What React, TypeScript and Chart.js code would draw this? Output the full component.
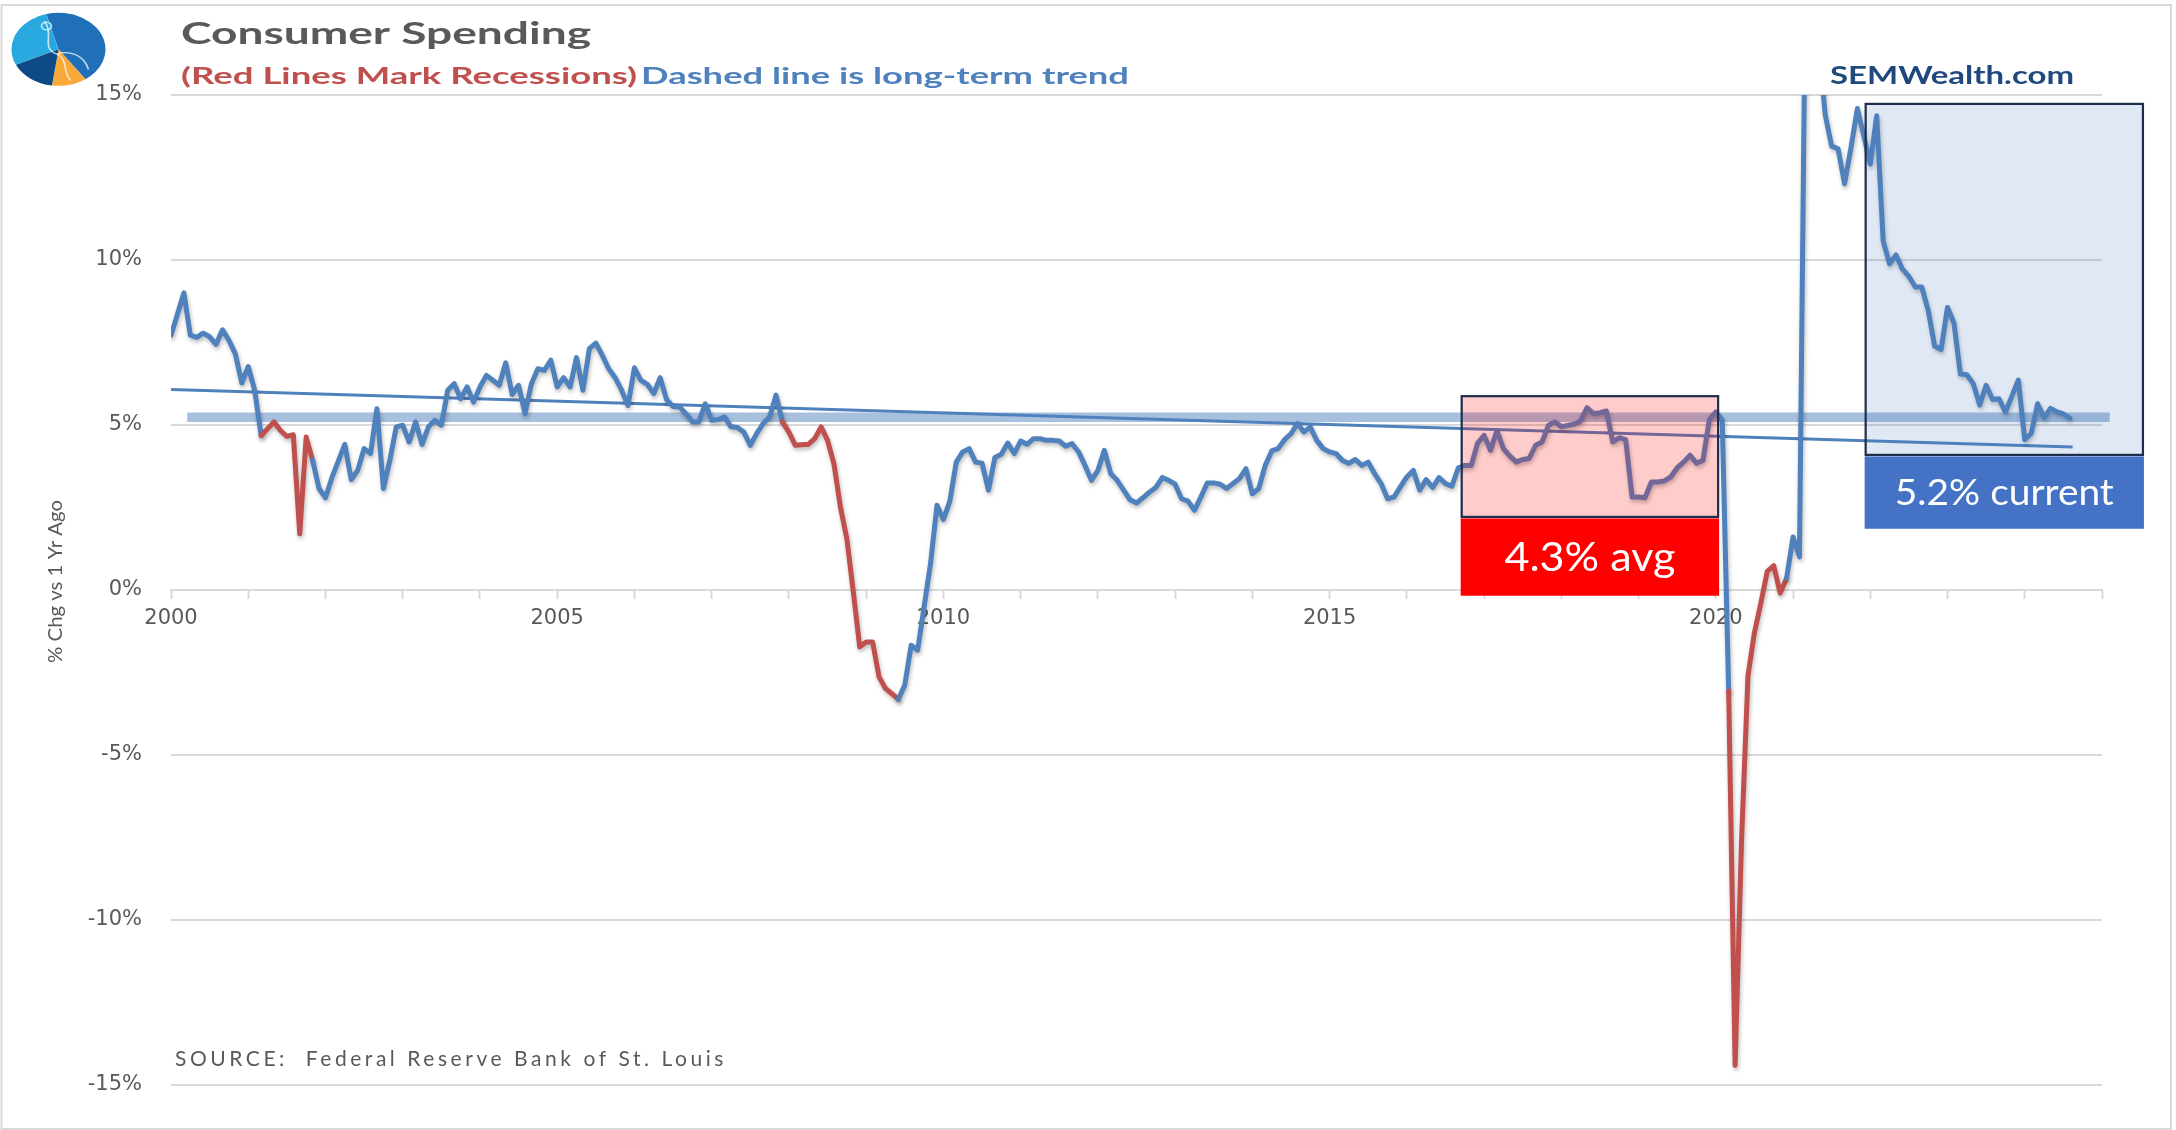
import React, { useEffect, useRef } from 'react';
import { Chart, registerables } from 'chart.js';

Chart.register(...registerables);

// ---------------- DATA ----------------
const START_YEAR = 2000;
const X_MIN = 2000;
const X_MAX = 2025;
const Y_MIN = -15;
const Y_MAX = 15;
const Y_STEP = 5;
const LABEL_YEAR_STEP = 5;
const LAST_LABELLED_YEAR = 2020;

// Consumer spending, % change vs 1 year ago, monthly (Jan of each year first)
const spending2000s = [
  7.72, 8.35, 9.0, 7.72, 7.65, 7.78, 7.67, 7.44, 7.88, 7.56, 7.15, 6.27, // 2000
  6.77, 6.05, 4.68, 4.88, 5.09, 4.83, 4.65, 4.7, 1.7, 4.63, 3.93, 3.07, // 2001
  2.79, 3.4, 3.9, 4.41, 3.34, 3.62, 4.28, 4.13, 5.49, 3.07, 3.93, 4.94, // 2002
  4.99, 4.48, 5.09, 4.41, 4.94, 5.14, 4.99, 6.05, 6.25, 5.79, 6.15, 5.69, // 2003
  6.15, 6.5, 6.35, 6.2, 6.88, 5.92, 6.2, 5.34, 6.25, 6.7, 6.65, 6.96, // 2004
  6.15, 6.43, 6.15, 7.04, 6.05, 7.31, 7.48, 7.11, 6.7, 6.43, 6.05, 5.59, // 2005
  6.73, 6.35, 6.23, 5.95, 6.43, 5.76, 5.56, 5.54, 5.34, 5.09, 5.09, 5.64, // 2006
  5.14, 5.16, 5.24, 4.94, 4.92, 4.78, 4.38, 4.74, 5.04, 5.24, 5.9, 5.09, // 2007
  4.78, 4.38, 4.4, 4.41, 4.58, 4.94, 4.53, 3.82, 2.51, 1.55, -0.06, -1.73, // 2008
  -1.58, -1.58, -2.64, -2.99, -3.15, -3.32, -2.89, -1.68, -1.83, -0.52, 0.79, 2.56, // 2009
];
const spending2010s = [
  2.13, 2.69, 3.87, 4.18, 4.28, 3.87, 3.84, 3.02, 4.01, 4.11, 4.45, 4.13, // 2010
  4.51, 4.41, 4.58, 4.58, 4.53, 4.53, 4.51, 4.35, 4.43, 4.18, 3.77, 3.32, // 2011
  3.62, 4.23, 3.52, 3.32, 3.02, 2.73, 2.63, 2.79, 2.96, 3.1, 3.4, 3.32, // 2012
  3.2, 2.76, 2.69, 2.41, 2.81, 3.24, 3.24, 3.2, 3.07, 3.22, 3.37, 3.67, // 2013
  2.91, 3.07, 3.77, 4.21, 4.28, 4.55, 4.73, 5.04, 4.78, 4.94, 4.53, 4.28, // 2014
  4.18, 4.13, 3.92, 3.83, 3.95, 3.77, 3.87, 3.52, 3.22, 2.76, 2.81, 3.12, // 2015
  3.42, 3.62, 3.02, 3.34, 3.1, 3.4, 3.22, 3.14, 3.7, 3.77, 3.77, 4.45, // 2016
  4.68, 4.23, 4.83, 4.28, 4.05, 3.87, 3.95, 3.98, 4.38, 4.48, 4.98, 5.09, // 2017
  4.94, 4.98, 5.02, 5.12, 5.52, 5.34, 5.37, 5.42, 4.48, 4.61, 4.55, 2.81, // 2018
  2.81, 2.79, 3.27, 3.27, 3.3, 3.42, 3.7, 3.87, 4.08, 3.84, 3.92, 5.16, // 2019
];
const spending2020s = [
  5.39, 5.14, -3.07, -14.42, -7.6, -2.6, -1.3, -0.4, 0.56, 0.73, -0.1, 0.35, // 2020
  1.6, 1.0, 20.0, 27.0, 16.5, 14.4, 13.45, 13.37, 12.31, 13.4, 14.59, 13.75, // 2021
  12.91, 14.37, 10.58, 9.88, 10.15, 9.72, 9.5, 9.18, 9.18, 8.47, 7.39, 7.28, // 2022
  8.56, 8.09, 6.54, 6.52, 6.25, 5.6, 6.2, 5.77, 5.79, 5.39, 5.87, 6.36, // 2023
  4.55, 4.74, 5.64, 5.22, 5.5, 5.39, 5.33, 5.2, // 2024
];

// Recessions (red segments)
const recessionStarts = ['2001-03', '2007-12', '2020-03'];
const recessionEnds = ['2001-11', '2009-06', '2020-12'];

// Long-term trend line
const trendYears = [2000, 2024.62];
const trendValues = [6.07, 4.33];

// Current-level band
const bandYears = [2000.21, 2025.1];
const bandValues = [5.23, 5.23];

// Highlight boxes
const highlightLabels = ['4.3% avg', '5.2% current'];
const highlightStart = [2016.71, 2021.94];
const highlightEnd = [2020.03, 2025.53];
const highlightTop = [5.87, 14.73];
const highlightBottom = [2.21, 4.09];
const highlightLabelBottom = [-0.18, 1.85];

// ---------------- STYLE ----------------
const BLUE = '#4F81BD';
const RED = '#C0504D';
const GRID = '#D9D9D9';
const TEXT = '#595959';
const LATO_CAP = 0.7165;
const highlightFill = ['rgba(255,0,0,0.2)', 'rgba(79,129,189,0.18)'];
const labelFill = ['#FF0000', '#4472C4'];
const labelWidths = [171, 219];
const labelSizes = [40, 36];

const monthIndex = (ym: string) => {
  const [y, m] = ym.split('-').map(Number);
  return (y - START_YEAR) * 12 + (m - 1);
};
const spending = [...spending2000s, ...spending2010s, ...spending2020s];
const spendingPoints = spending.map((v, i) => ({ x: START_YEAR + i / 12, y: v }));
const recessionRanges = recessionStarts.map((s, k) => [monthIndex(s), monthIndex(recessionEnds[k])]);
const inRecession = (i: number) => recessionRanges.some(([a, b]) => i >= a && i <= b);
const trendPoints = trendYears.map((x, i) => ({ x, y: trendValues[i] }));
const bandPoints = bandYears.map((x, i) => ({ x, y: bandValues[i] }));

function stretchText(
  ctx: CanvasRenderingContext2D,
  text: string,
  x: number,
  baseline: number,
  width: number,
  size: number,
  weight: string,
  color: string,
  rotate = false
) {
  ctx.save();
  ctx.font = `${weight} ${size}px Lato`;
  ctx.fillStyle = color;
  ctx.textAlign = 'left';
  ctx.textBaseline = 'alphabetic';
  const w = ctx.measureText(text).width;
  ctx.translate(x, baseline);
  if (rotate) ctx.rotate(-Math.PI / 2);
  ctx.scale(width / w, 1);
  ctx.fillText(text, 0, 0);
  ctx.restore();
}

const decorPlugin = {
  id: 'decor',
  beforeDatasetDraw(chart: any, args: any) {
    if (args.index !== 0) return;
    const ctx = chart.ctx;
    ctx.save();
    ctx.shadowColor = 'rgba(0,0,0,0.28)';
    ctx.shadowBlur = 4;
    ctx.shadowOffsetX = 1;
    ctx.shadowOffsetY = 2.5;
  },
  afterDatasetDraw(chart: any, args: any) {
    if (args.index !== 0) return;
    chart.ctx.restore();
  },
  afterDatasetsDraw(chart: any) {
    const ctx: CanvasRenderingContext2D = chart.ctx;
    const xs = chart.scales.x;
    const ys = chart.scales.y;
    highlightLabels.forEach((label, k) => {
      const left = xs.getPixelForValue(highlightStart[k]);
      const right = xs.getPixelForValue(highlightEnd[k]);
      const top = ys.getPixelForValue(highlightTop[k]);
      const mid = ys.getPixelForValue(highlightBottom[k]);
      const bottom = ys.getPixelForValue(highlightLabelBottom[k]);
      ctx.save();
      ctx.fillStyle = highlightFill[k];
      ctx.fillRect(left, top, right - left, mid - top);
      ctx.lineWidth = 2.2;
      ctx.strokeStyle = '#1D2D4C';
      ctx.strokeRect(left, top, right - left, mid - top);
      ctx.fillStyle = labelFill[k];
      ctx.fillRect(left - 1, mid + 1.5, right - left + 2, bottom - mid - 1.5);
      ctx.restore();
      const cx = (left + right) / 2;
      const cy = (mid + 1.5 + bottom) / 2;
      const size = labelSizes[k];
      const w = labelWidths[k];
      stretchText(ctx, label, cx - w / 2, cy + (size * LATO_CAP) / 2, w, size, 'normal', '#FFFFFF');
    });
  },
  afterDraw(chart: any) {
    const ctx: CanvasRenderingContext2D = chart.ctx;
    // frame
    ctx.save();
    ctx.strokeStyle = GRID;
    ctx.lineWidth = 2;
    ctx.strokeRect(1.5, 5, 2169.5, 1124);
    ctx.restore();

    // logo
    ctx.save();
    ctx.translate(58.5, 49.3);
    ctx.scale(1, 36.5 / 47);
    const wedges: [number, number, string][] = [
      [-105, 55, '#1F70B8'],
      [55, 98, '#F9A83A'],
      [98, 155, '#0E4A86'],
      [155, 255, '#2AA8E0'],
    ];
    wedges.forEach(([a0, a1, c]) => {
      ctx.beginPath();
      ctx.moveTo(0, 0);
      ctx.arc(0, 0, 47, (a0 * Math.PI) / 180, (a1 * Math.PI) / 180);
      ctx.closePath();
      ctx.fillStyle = c;
      ctx.fill();
    });
    ctx.strokeStyle = 'rgba(255,255,255,0.75)';
    ctx.lineWidth = 1.6;
    ctx.beginPath();
    ctx.moveTo(-14, -36);
    ctx.bezierCurveTo(-4, -20, -18, -2, -2, 6);
    ctx.bezierCurveTo(10, 12, 4, 30, 12, 40);
    ctx.moveTo(-2, 6);
    ctx.bezierCurveTo(14, 0, 26, 10, 30, 26);
    ctx.stroke();
    ctx.beginPath();
    ctx.arc(-12, -30, 5, 0, Math.PI * 2);
    ctx.stroke();
    ctx.restore();

    // titles
    stretchText(ctx, 'Consumer Spending', 181, 43.5, 410, 31, 'bold', TEXT);
    stretchText(ctx, '(Red Lines Mark Recessions)', 181, 83.5, 456, 23.5, 'bold', RED);
    stretchText(ctx, 'Dashed line is long-term trend', 641, 83.5, 488, 23.5, 'bold', BLUE);
    stretchText(ctx, 'SEMWealth.com', 1830, 83.5, 244, 25.5, 'bold', '#1F497D');

    // y-axis title
    stretchText(ctx, '% Chg vs 1 Yr Ago', 62, 663, 163, 19, 'normal', TEXT, true);

    // source
    ctx.save();
    ctx.font = 'normal 21px Lato';
    ctx.fillStyle = TEXT;
    ctx.textBaseline = 'alphabetic';
    const src = 'SOURCE:  Federal Reserve Bank of St. Louis';
    const natural = ctx.measureText(src).width;
    const target = 552;
    const anyCtx = ctx as any;
    if ('letterSpacing' in anyCtx) {
      anyCtx.letterSpacing = `${(target - natural) / src.length}px`;
      ctx.fillText(src, 175, 1065.5);
    } else {
      ctx.translate(175, 1065.5);
      ctx.scale(target / natural, 1);
      ctx.fillText(src, 0, 0);
    }
    ctx.restore();
  },
};

export default function App() {
  const canvasRef = useRef<HTMLCanvasElement | null>(null);

  useEffect(() => {
    const canvas = canvasRef.current;
    if (!canvas) return;
    const chart = new Chart(canvas, {
      type: 'line',
      data: {
        datasets: [
          {
            label: 'Consumer Spending',
            data: spendingPoints,
            borderColor: BLUE,
            borderWidth: 5,
            pointRadius: 0,
            tension: 0,
            borderJoinStyle: 'round',
            borderCapStyle: 'round',
            order: 1,
            segment: {
              borderColor: (c: any) => (inRecession(c.p0DataIndex) && inRecession(c.p1DataIndex) ? RED : undefined),
            },
          } as any,
          {
            label: 'Long-term trend',
            data: trendPoints,
            borderColor: BLUE,
            borderWidth: 3,
            pointRadius: 0,
            order: 2,
          },
          {
            label: 'Current level',
            data: bandPoints,
            borderColor: '#A7C0DE',
            borderWidth: 9.5,
            borderCapStyle: 'butt',
            pointRadius: 0,
            order: 3,
            clip: false,
          } as any,
        ],
      },
      options: {
        responsive: false,
        animation: false,
        devicePixelRatio: 1,
        layout: { padding: { left: 0, top: 95, right: 74, bottom: 45.4 } },
        font: { family: 'DejaVu Sans' },
        scales: {
          x: {
            type: 'linear',
            position: { y: 0 } as any,
            min: X_MIN,
            max: X_MAX,
            grid: {
              drawOnChartArea: false,
              drawTicks: true,
              tickLength: 8,
              tickColor: GRID,
              tickWidth: 2,
            },
            border: { display: true, color: GRID, width: 2 },
            ticks: {
              stepSize: 1,
              autoSkip: false,
              maxRotation: 0,
              padding: 8,
              color: TEXT,
              font: { family: 'DejaVu Sans', size: 21 },
              callback: (v: any) =>
                Number(v) % LABEL_YEAR_STEP === 0 && Number(v) <= LAST_LABELLED_YEAR ? String(v) : '',
            },
          },
          y: {
            min: Y_MIN,
            max: Y_MAX,
            afterFit: (s: any) => {
              s.width = 171;
            },
            grid: { color: GRID, lineWidth: 2, drawTicks: false },
            border: { display: false },
            ticks: {
              stepSize: Y_STEP,
              padding: 29,
              color: TEXT,
              font: { family: 'DejaVu Sans', size: 21 },
              callback: (v: any) => `${v}%`,
            },
          },
        },
        plugins: {
          legend: { display: false },
          tooltip: { enabled: false },
          title: { display: false },
        },
      },
      plugins: [decorPlugin],
    });
    return () => chart.destroy();
  }, []);

  return (
    <div style={{ position: 'absolute', left: 0, top: 0, width: 2176, height: 1130, background: '#fff' }}>
      <canvas ref={canvasRef} width={2176} height={1130} style={{ display: 'block', width: 2176, height: 1130 }} />
    </div>
  );
}
